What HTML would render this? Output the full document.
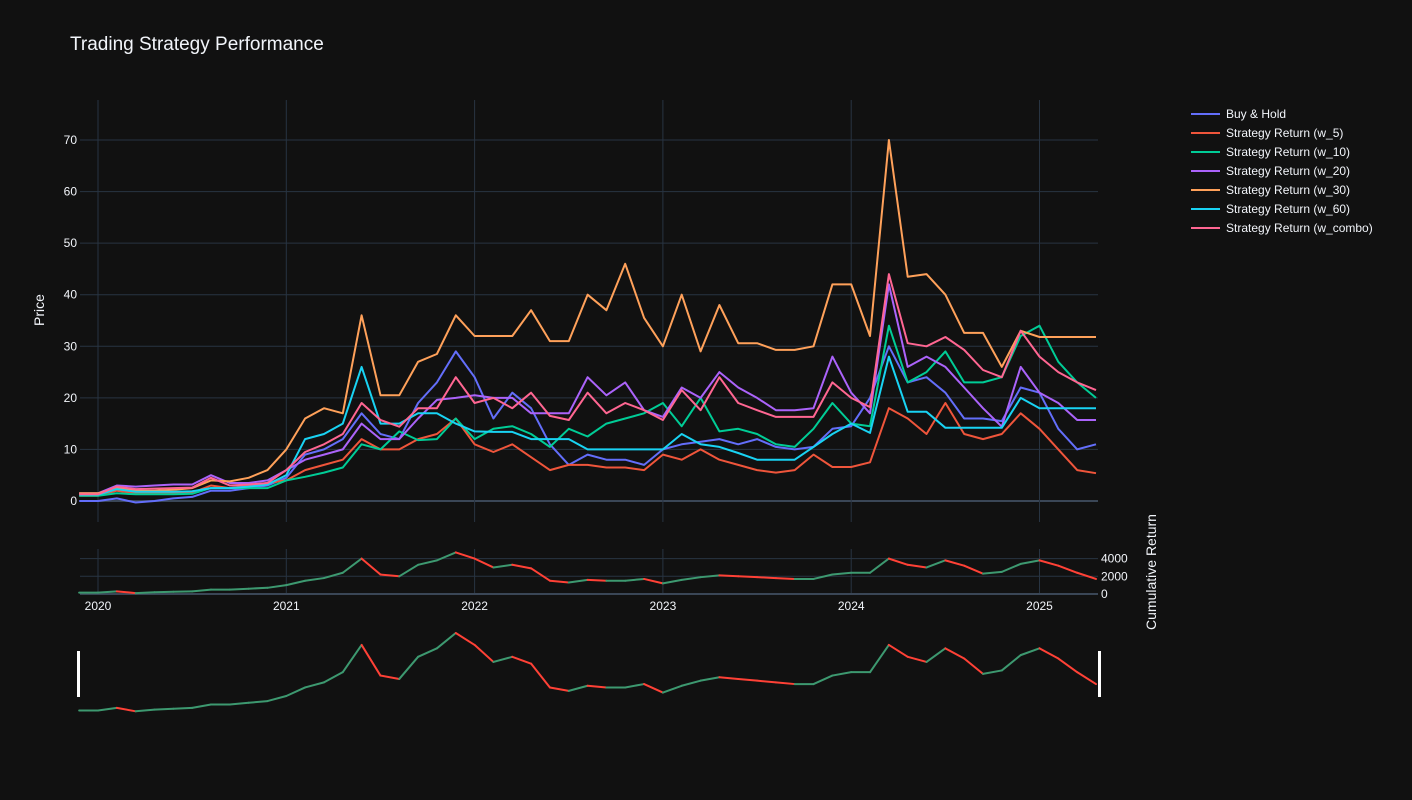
<!DOCTYPE html>
<html><head><meta charset="utf-8"><style>
html,body{margin:0;padding:0;background:#111111;}
svg{display:block;font-family:"Liberation Sans","DejaVu Sans",sans-serif;}
</style></head><body>
<svg id="chart" width="1412" height="800" viewBox="0 0 1412 800" xmlns="http://www.w3.org/2000/svg">
<rect width="1412" height="800" fill="#111111"/>
<text x="70" y="50" fill="#f2f5fa" font-size="19">Trading Strategy Performance</text>
<g id="grid"></g>
<g id="lines"></g>
<g id="sub"></g>
<g id="slider"></g>
<g id="legend"></g>
<text transform="translate(44,310) rotate(-90)" text-anchor="middle" fill="#f2f5fa" font-size="14">Price</text>
<text transform="translate(1156,572) rotate(-90)" text-anchor="middle" fill="#f2f5fa" font-size="14">Cumulative Return</text>
</svg>
<script>
const dates=[2019.9,2020.0,2020.1,2020.2,2020.3,2020.4,2020.5,2020.6,2020.7,2020.8,2020.9,2021.0,2021.1,2021.2,2021.3,2021.4,2021.5,2021.6,2021.7,2021.8,2021.9,2022.0,2022.1,2022.2,2022.3,2022.4,2022.5,2022.6,2022.7,2022.8,2022.9,2023.0,2023.1,2023.2,2023.3,2023.4,2023.5,2023.6,2023.7,2023.8,2023.9,2024.0,2024.1,2024.2,2024.3,2024.4,2024.5,2024.6,2024.7,2024.8,2024.9,2025.0,2025.1,2025.2,2025.3];
const buyHold=[0,0,0.5,-0.3,0,0.5,0.8,2,2,2.5,3,4.5,9,10,12,17,13,12,19,23,29,24,16,21,18,11,7,9,8,8,7,10,11,11.5,12,11,12,10.5,10,10.5,14,14.5,20,30,23,24,21,16,16,15.5,22,21,14,10,11];
const w5=[1,1,2,1.5,1.5,1.5,1.6,3,2.5,3,3.5,4,6,7,8,12,10,10,12,13,16,11,9.5,11,8.5,6,7,7,6.5,6.5,6,9,8,10,8,7,6,5.5,6,9,6.6,6.6,7.5,18,16,13,19,13,12,13,17,14,10,6,5.4];
const w10=[1,1,1.5,1.3,1.3,1.3,1.4,2.5,2.5,2.5,2.5,4,4.7,5.5,6.5,11,10,13.5,11.8,12,16,12,14,14.5,13,10.5,14,12.5,15,16,17,19,14.5,20,13.5,14,13,11,10.5,14,19,15,14.5,34,23,25,29,23,23,24,32,34,27,23,20];
const w20=[1.5,1.5,3,2.8,3,3.2,3.2,5,3.5,3.5,4,6,8,9,10,15,12,12,16,19.6,20,20.5,20,20,17,17,17,24,20.5,23,17.6,16.3,22,20,25,22,20,17.6,17.6,18,28,21,17,42,26,28,26,22,18,14.4,26,21,19,15.7,15.7];
const w30=[1.5,1.5,2.5,2,2,2.2,2.5,4,3.8,4.5,6,10,16,18,17,36,20.5,20.5,27,28.5,36,32,32,32,37,31,31,40,37,46,35.5,30,40,29,38,30.6,30.6,29.3,29.3,30,42,42,32,70,43.5,44,40,32.6,32.6,26,33,31.8,31.8,31.8,31.8];
const w60=[1.2,1.2,2.3,1.8,1.8,1.8,1.9,2.5,2.5,2.8,3.2,5,12,13,15,26,15,15,17,17,15,13.5,13.4,13.4,12,12,12,10,10,10,10,10,13,11,10.5,9.3,8,8,8,10.5,13,15,13.2,28,17.3,17.3,14.2,14.2,14.2,14.2,20,18,18,18,18];
const wCombo=[1.3,1.3,2.8,2.3,2.4,2.5,2.6,4.5,3,3.2,3.5,6,9.5,11,13,19,15.7,14.4,18,18,24,19,20,18,21,16.5,15.7,21,17,19,17.6,15.7,21.5,17.6,24,19,17.6,16.3,16.3,16.3,23,20,18.2,44,30.6,30,31.8,29.3,25.4,24,33,28,25,23,21.5];
const price=[150,150,300,100,200,250,300,500,500,600,700,1000,1500,1800,2400,4000,2200,2000,3300,3800,4700,4000,3000,3300,2900,1500,1300,1600,1500,1500,1700,1200,1600,1900,2100,2000,1900,1800,1700,1700,2200,2400,2400,4000,3300,3000,3800,3200,2300,2500,3400,3800,3200,2400,1700];
const seriesNames=["Buy & Hold","Strategy Return (w_5)","Strategy Return (w_10)","Strategy Return (w_20)","Strategy Return (w_30)","Strategy Return (w_60)","Strategy Return (w_combo)"];
const yTicks=[0,10,20,30,40,50,60,70];
const y2Ticks=[0,2000,4000];
const xTicks=[2020,2021,2022,2023,2024,2025];

const NS="http://www.w3.org/2000/svg";
const colors=["#636efa","#EF553B","#00cc96","#ab63fa","#FFA15A","#19d3f3","#FF6692"];
const slugs=["buy-and-hold","w5","w10","w20","w30","w60","w-combo"];
const X0=80,X1=1098;
function xs(t){return 98+(t-2020)*188.3;}
function ys(v){return 501-v*5.157;}
function ys2(v){return 594-v*0.00885;}
function ys3(v){return 713-v*(80/4700);}
function mk(tag,attrs,parent){const e=document.createElementNS(NS,tag);for(const k in attrs)e.setAttribute(k,attrs[k]);parent.appendChild(e);return e;}
const grid=document.getElementById('grid');
yTicks.forEach(v=>{
  const l=mk('line',{x1:X0,x2:X1,y1:ys(v),y2:ys(v),stroke:v===0?'#3a4656':'#283442','stroke-width':v===0?2:1},grid);
  
  
  const t=mk('text',{x:77,y:ys(v)+4,'text-anchor':'end',fill:'#f2f5fa','font-size':12},grid);
  t.textContent=v;
  
  
});
xTicks.forEach(yr=>{
  const l=mk('line',{x1:xs(yr),x2:xs(yr),y1:100,y2:522,stroke:'#283442','stroke-width':1},grid);
  
  
  const l2=mk('line',{x1:xs(yr),x2:xs(yr),y1:549,y2:594,stroke:'#283442','stroke-width':1},grid);
  
  
  const t=mk('text',{x:xs(yr),y:610,'text-anchor':'middle',fill:'#f2f5fa','font-size':12},grid);
  t.textContent=yr;
  
  
});
y2Ticks.forEach(v=>{
  const l=mk('line',{x1:X0,x2:X1,y1:ys2(v),y2:ys2(v),stroke:v===0?'#3a4656':'#283442','stroke-width':v===0?2:1},grid);
  
  
  const t=mk('text',{x:1101,y:ys2(v)+4,fill:'#f2f5fa','font-size':12},grid);
  t.textContent=v;
  
  
});
const all=[buyHold,w5,w10,w20,w30,w60,wCombo];
const lines=document.getElementById('lines');
all.forEach((s,i)=>{
  const pts=s.map((v,j)=>xs(dates[j]).toFixed(1)+','+ys(v).toFixed(1)).join(' ');
  const p=mk('polyline',{points:pts,fill:'none',stroke:colors[i],'stroke-width':2,'stroke-linejoin':'round'},lines);
  
  
});
function drawPrice(parent,yf,w,name){
  for(let j=1;j<price.length;j++){
    const up=price[j]>=price[j-1];
    const seg=mk('line',{x1:xs(dates[j-1]),y1:yf(price[j-1]),x2:xs(dates[j]),y2:yf(price[j]),stroke:up?'#3d9970':'#ff4136','stroke-width':w,'stroke-linecap':'round'},parent);
    
    
  }
}
drawPrice(document.getElementById('sub'),ys2,2,'price-candle');
const slider=document.getElementById('slider');
drawPrice(slider,ys3,2,'rangeslider-candle');
const h1=mk('rect',{x:77,y:651,width:3,height:46,fill:'#ffffff'},slider);


const h2=mk('rect',{x:1098,y:651,width:3,height:46,fill:'#ffffff'},slider);


const lg=document.getElementById('legend');
seriesNames.forEach((n,i)=>{
  const y=114+i*19;
  const g=mk('g',{},lg);
  
  
  mk('line',{x1:1191,x2:1220,y1:y,y2:y,stroke:colors[i],'stroke-width':2},g);
  const t=mk('text',{x:1226,y:y+4,fill:'#f2f5fa','font-size':12},g);
  t.textContent=n;
});
</script>
</body></html>
